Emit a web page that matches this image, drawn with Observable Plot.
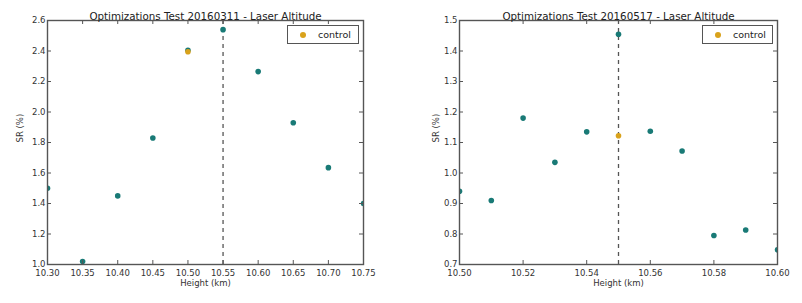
<!DOCTYPE html>
<html>
<head>
<meta charset="utf-8">
<script src="https://cdn.jsdelivr.net/npm/d3@7"></script>
<script src="https://cdn.jsdelivr.net/npm/@observablehq/plot@0.6"></script>
<style>
  body { margin: 0; background: #fff; }
  #wrap { position: relative; width: 802px; height: 303px; display: flex; }
  .legend { position: absolute; top: 25px; height: 19px; border: 1.3px solid #555; box-sizing: border-box; background: #fff;
            font: 9.5px "DejaVu Sans", sans-serif; color: #222; display: flex; align-items: center; }
  .legend .sw { width: 6px; height: 6px; border-radius: 50%; background: #d9a21b; margin-left: 12px; margin-right: 12px; }
</style>
</head>
<body>
<div id="wrap"></div>
<script>
// ---- data ----
const leftTitle = "Optimizations Test 20160311 - Laser Altitude";
const leftHeights = [10.30, 10.35, 10.40, 10.45, 10.50, 10.55, 10.60, 10.65, 10.70, 10.75];
const leftSR      = [1.50, 1.02, 1.45, 1.83, 2.405, 2.54, 2.265, 1.93, 1.635, 1.40];
const leftControlHeight = [10.50];
const leftControlSR     = [2.395];
const leftRefHeight = 10.55;
const leftXTicks = [10.30, 10.35, 10.40, 10.45, 10.50, 10.55, 10.60, 10.65, 10.70, 10.75];
const leftYTicks = [1.0, 1.2, 1.4, 1.6, 1.8, 2.0, 2.2, 2.4, 2.6];

const rightTitle = "Optimizations Test 20160517 - Laser Altitude";
const rightHeights = [10.50, 10.51, 10.52, 10.53, 10.54, 10.55, 10.56, 10.57, 10.58, 10.59, 10.60];
const rightSR      = [0.94, 0.91, 1.18, 1.035, 1.135, 1.455, 1.137, 1.072, 0.795, 0.813, 0.748];
const rightControlHeight = [10.55];
const rightControlSR     = [1.122];
const rightRefHeight = 10.55;
const rightXTicks = [10.50, 10.52, 10.54, 10.56, 10.58, 10.60];
const rightYTicks = [0.7, 0.8, 0.9, 1.0, 1.1, 1.2, 1.3, 1.4, 1.5];

const xLabel = "Height (km)";
const yLabel = "SR (%)";
const legendLabel = "control";

const TEAL = "#197a76";
const GOLD = "#d9a21b";
const FRAME = "#555";
const FONT = "DejaVu Sans, sans-serif";

function chart({width, marginLeft, marginRight, title, heights, sr, ch, cs, ref, xt, yt, ylabDx}) {
  const xd = [xt[0], xt[xt.length - 1]];
  const yd = [yt[0], yt[yt.length - 1]];
  const main = heights.map((h, i) => ({h, v: sr[i]}));
  const ctrl = ch.map((h, i) => ({h, v: cs[i]}));
  return Plot.plot({
    width, height: 303,
    marginLeft, marginRight, marginTop: 20, marginBottom: 39,
    style: {fontFamily: FONT, fontSize: "8.5px", color: "#333", background: "#fff"},
    x: {domain: xd},
    y: {domain: yd},
    marks: [
      Plot.ruleX([ref], {x: d => d, stroke: "#555", strokeWidth: 1.3, strokeDasharray: "4,4"}),
      Plot.dot(main, {x: "h", y: "v", r: 2.8, fill: TEAL, stroke: "none", clip: true}),
      Plot.dot(ctrl, {x: "h", y: "v", r: 2.8, fill: GOLD, stroke: "none", clip: true}),
      // inward ticks on all four sides
      Plot.ruleX(xt, {x: d => d, y1: yd[0], y2: yd[0], insetTop: -4, stroke: FRAME}),
      Plot.ruleX(xt, {x: d => d, y1: yd[1], y2: yd[1], insetBottom: -4, stroke: FRAME}),
      Plot.ruleY(yt, {y: d => d, x1: xd[0], x2: xd[0], insetRight: -4, stroke: FRAME}),
      Plot.ruleY(yt, {y: d => d, x1: xd[1], x2: xd[1], insetLeft: -4, stroke: FRAME}),
      Plot.axisX(xt, {tickSize: 0, tickPadding: 5, label: null, tickFormat: d3.format(".2f"), fill: "#333", fontSize: 8.5}),
      Plot.axisY(yt, {tickSize: 0, tickPadding: 2, label: null, tickFormat: d3.format(".1f"), fill: "#333", fontSize: 8.5}),
      Plot.frame({stroke: FRAME, strokeWidth: 1.4}),
      Plot.text([title], {frameAnchor: "top", dy: -8, fontSize: 10.3, fill: "#222"}),
      Plot.text([xLabel], {frameAnchor: "bottom", dy: 21, fontSize: 8.5, fill: "#333"}),
      Plot.text([yLabel], {frameAnchor: "left", rotate: -90, dx: ylabDx, fontSize: 8.5, fill: "#333"})
    ]
  });
}

const wrap = document.getElementById("wrap");
wrap.append(chart({width: 400, marginLeft: 47, marginRight: 37, title: leftTitle,
  heights: leftHeights, sr: leftSR, ch: leftControlHeight, cs: leftControlSR, ref: leftRefHeight,
  xt: leftXTicks, yt: leftYTicks, ylabDx: -27}));
wrap.append(chart({width: 402, marginLeft: 59, marginRight: 25, title: rightTitle,
  heights: rightHeights, sr: rightSR, ch: rightControlHeight, cs: rightControlSR, ref: rightRefHeight,
  xt: rightXTicks, yt: rightYTicks, ylabDx: -23}));

function legend(left, width) {
  const d = document.createElement("div");
  d.className = "legend";
  d.style.left = left + "px";
  d.style.width = width + "px";
  d.innerHTML = '<span class="sw"></span><span>' + legendLabel + '</span>';
  wrap.append(d);
}
legend(287, 72);
legend(702, 71);
</script>
</body>
</html>
